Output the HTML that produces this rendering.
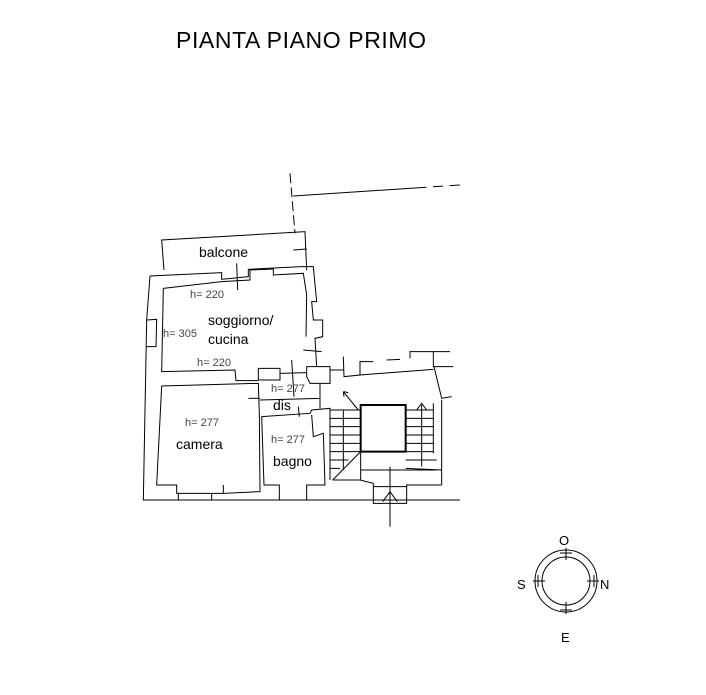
<!DOCTYPE html>
<html><head><meta charset="utf-8"><style>
html,body{margin:0;padding:0;background:#fff;}
body{width:706px;height:695px;position:relative;overflow:hidden;font-family:"Liberation Sans",sans-serif;}
.t{position:absolute;white-space:nowrap;color:#000;}
.s{font-size:14px;}
.h{font-size:11px;color:#444;}
</style></head><body>
<svg width="706" height="695" style="position:absolute;left:0;top:0">
<g transform="translate(140,170) scale(0.33333)" fill="none" stroke="#000" stroke-width="3">
<path d="M450 10 L465 190" stroke-dasharray="30 12"/>
<path d="M460 78 L960 45" stroke-dasharray="400 20 30 20 60"/>
<path d="M72 300 L65 210 L495 185 L500 300"/>
<path d="M460 240 L500 237"/>
<path d="M290 280 L293 360"/>
<path d="M30 318 L245 308 L245 328 L325 320 L325 298 L485 290 L520 290 L530 395 L515 395 L520 450 L548 450 L548 500 L525 505 L530 590"/>
<path d="M30 318 L20 450 L10 990 L960 990"/>
<path d="M20 450 L50 448 L48 530 L18 530"/>
<path d="M70 355 L245 335 L330 330 L330 300 L400 297 L400 315 L490 310 L500 375 L498 500"/>
<path d="M70 355 L65 605 L285 600 L288 632 L355 632"/>
<path d="M355 595 L420 595 L420 630 L355 630 Z"/>
<path d="M500 590 L570 590 L570 640 L510 640 L500 620 Z"/>
<path d="M420 610 L500 608"/>
<path d="M490 540 L545 545"/>
<path d="M455 570 L462 680"/>
<path d="M65 648 L355 640 L358 730 L360 965 L250 970 L250 945"/>
<path d="M65 648 L50 945 L110 945 L110 970 L250 970"/>
<path d="M115 970 L115 990 M215 970 L215 990"/>
<path d="M325 685 L360 685"/>
<path d="M360 690 L540 685 L540 640 M540 685 L540 715"/>
<path d="M365 740 L510 730 L515 720 L570 715 L570 930"/>
<path d="M365 740 L372 945 L418 945 L418 990 M500 990 L500 945 L555 945 L550 790 L520 800 L515 735"/>
<path d="M475 710 L478 740"/>
<path d="M570 600 L610 600 M610 560 L612 620 L660 615 L660 575 L700 575 M740 570 L780 568 M810 565 L810 545 L880 545 L880 590 L940 590 M880 545 L930 545 M882 590 L905 685 L935 680 M905 690 L905 945" />
<path d="M660 615 L880 598"/>
<path d="M662 705 L797 705 L797 845 L662 845 Z" stroke-width="6"/>
<path d="M570 720 L660 720 M570 745 L660 745 M570 770 L660 770 M570 795 L660 795 M570 820 L660 820 M570 845 L660 845 M570 870 L625 870 M570 895 L600 895"/>
<path d="M610 720 L610 900"/>
<path d="M578 930 L662 845"/>
<path d="M610 665 L655 720 M610 665 L612 680 M610 665 L625 668"/>
<path d="M797 720 L880 720 M797 745 L880 745 M797 770 L880 770 M797 795 L880 795 M797 820 L880 820 M797 845 L880 845 M797 870 L890 870 M797 895 L905 900"/>
<path d="M845 705 L845 890 M830 720 L845 700 L860 720"/>
<path d="M880 700 L880 850"/>
<path d="M662 845 L662 930 L578 930 M662 900 L890 900"/>
<path d="M660 930 L700 940 L700 950 L800 950 L800 945 L905 945"/>
<path d="M700 950 L700 1000 L800 1000 L800 950"/>
<path d="M750 890 L750 1070 M728 995 L750 965 L772 995"/>
</g>
<g fill="none" stroke="#000" stroke-width="1">
<circle cx="566" cy="581" r="31"/>
<circle cx="566" cy="581" r="24"/>
<path d="M566 548 L566 560 M560 553 L572 553 M566 602 L566 614 M560 610 L572 610 M533 581 L545 581 M538 575 L538 587 M587 581 L599 581 M594 575 L594 587"/>
</g>
</svg>
<div class="t" style="left:176px;top:27px;font-size:23px;letter-spacing:0.6px;">PIANTA PIANO PRIMO</div>
<div class="t" style="left:559px;top:533px;font-size:13px;">O</div>
<div class="t" style="left:517px;top:577px;font-size:13px;">S</div>
<div class="t" style="left:600px;top:577px;font-size:13px;">N</div>
<div class="t" style="left:561px;top:630px;font-size:13px;">E</div>
<div class="t s" style="left:199px;top:244px;">balcone</div>
<div class="t h" style="left:190px;top:289px;">h= 220</div>
<div class="t s" style="left:208px;top:312px;">soggiorno/</div>
<div class="t s" style="left:208px;top:331px;">cucina</div>
<div class="t h" style="left:163px;top:328px;">h= 305</div>
<div class="t h" style="left:197px;top:357px;">h= 220</div>
<div class="t h" style="left:271px;top:383px;">h= 277</div>
<div class="t s" style="left:273px;top:397px;">dis</div>
<div class="t h" style="left:185px;top:417px;">h= 277</div>
<div class="t s" style="left:176px;top:436px;">camera</div>
<div class="t h" style="left:271px;top:434px;">h= 277</div>
<div class="t s" style="left:273px;top:453px;">bagno</div>
</body></html>
